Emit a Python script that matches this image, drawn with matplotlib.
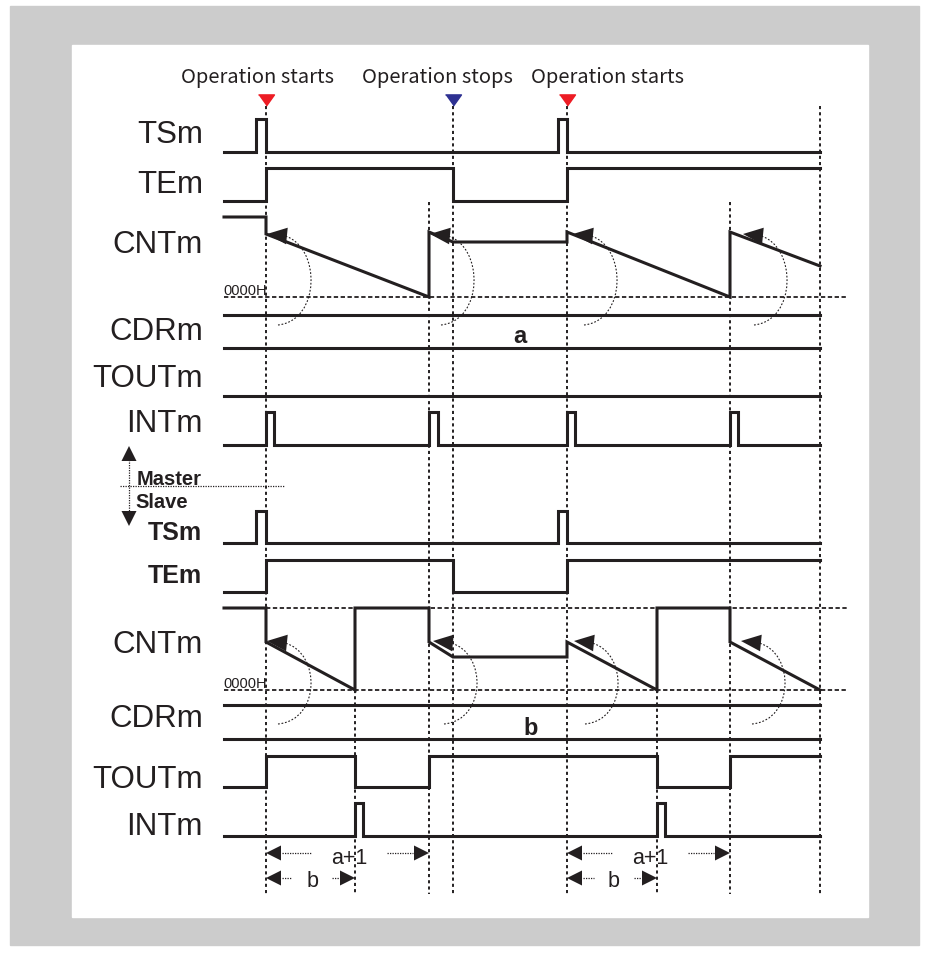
import matplotlib.pyplot as plt
from matplotlib.patches import Rectangle, PathPatch
from matplotlib.path import Path

# time axis events (same units as the horizontal axis)
t_begin, t_end = 224, 820
start_times = [266, 567]           # Operation starts
stop_times = [453]                 # Operation stops
master_zero = [429, 730]           # master counter hits 0000H
slave_zero = [355, 657]            # slave counter hits 0000H
reload_times = [266, 429, 567, 730]
m_arc_shift = [0, 0, 5, 12]
s_arc_shift = [0, 3, 6, 10]

# step signals: edge times (signal starts low, toggles at every edge)
m_ts_edges = [256, 266, 558, 567]
m_te_edges = [266, 453, 567]
m_int_edges = [266, 274, 429, 438, 567, 575, 730, 738]
s_ts_edges = [256, 266, 558, 567]
s_te_edges = [266, 453, 567]
s_tout_edges = [266, 355, 429, 657, 730]
s_int_edges = [355, 363, 657, 665]

# counter values, 0 = 0000H
m_cnt_t = [224, 266, 266, 429, 429, 453, 567, 567, 730, 730, 820]
m_cnt_v = [80, 80, 63, 0, 65, 55, 55, 65, 0, 65, 31]
s_cnt_t = [224, 266, 266, 355, 355, 429, 429, 453, 567, 567, 657, 657, 730, 730, 820]
s_cnt_v = [82, 82, 48, 0, 82, 82, 48, 33, 33, 48, 0, 82, 82, 48, 0]

top_labels = ['Operation starts', 'Operation stops', 'Operation starts']
top_label_x = [257.5, 437, 608]
marker_x = [266, 453, 567]
marker_col = ['#ed1c24', '#2e3192', '#ed1c24']

INK = '#231f20'
LW = 2.2

fig = plt.figure(figsize=(9.28, 9.54), dpi=100)
ax = fig.add_axes([0, 0, 1, 1])
ax.set_xlim(0, 928)
ax.set_ylim(954, 0)
ax.axis('off')

ax.add_patch(Rectangle((10, 7), 909, 939, color='#cccccc', zorder=0))
ax.add_patch(Rectangle((72, 46), 796, 872, color='white', zorder=0))


def step(edges, low, high):
    xs, ys = [t_begin], [low]
    lvl = low
    for e in edges:
        new = high if lvl == low else low
        xs += [e, e]
        ys += [lvl, new]
        lvl = new
    xs.append(t_end)
    ys.append(lvl)
    return xs, ys


def wave(edges, low, high):
    xs, ys = step(edges, low, high)
    ax.plot(xs, ys, color=INK, lw=LW, solid_joinstyle='miter', zorder=3)


def hline(y, x0=t_begin, x1=t_end):
    ax.plot([x0, x1], [y, y], color=INK, lw=LW, zorder=3)


dash_v = dict(color=INK, lw=1.4, ls=(0, (1.6, 1.6)), zorder=1)
dash_h = dict(color=INK, lw=1.3, ls=(0, (2.4, 1.4)), zorder=1)

# vertical guide lines
for x in start_times + stop_times + [t_end]:
    ax.plot([x, x], [107, 895], **dash_v)
for x in master_zero:
    ax.plot([x, x], [203, 895], **dash_v)
for x in slave_zero:
    ax.plot([x, x], [691, 895], **dash_v)

# ---- master ----
wave(m_ts_edges, 152.5, 120)
wave(m_te_edges, 201.5, 169)
m_zero_y = 298
ax.plot([t_begin, 848], [m_zero_y, m_zero_y], **dash_h)
ax.plot(m_cnt_t, [m_zero_y - v for v in m_cnt_v], color=INK, lw=LW,
        solid_joinstyle='miter', zorder=3)
hline(316)
hline(349)
hline(397)
wave(m_int_edges, 446, 413)

# ---- slave ----
wave(s_ts_edges, 544, 512)
wave(s_te_edges, 593, 561)
s_zero_y = 691
ax.plot([t_begin, 848], [s_zero_y, s_zero_y], **dash_h)
ax.plot([266, 848], [609, 609], **dash_h)
ax.plot(s_cnt_t, [s_zero_y - v for v in s_cnt_v], color=INK, lw=LW,
        solid_joinstyle='miter', zorder=3)
hline(706)
hline(740)
wave(s_tout_edges, 788, 757)
wave(s_int_edges, 837, 804)


# reload arcs with arrowheads
def reload_arc(t, top, bottom):
    p0 = (t + 12, bottom)
    p3 = (t + 19, top)
    bulge = t + 45
    cx = (bulge - 0.125 * (p0[0] + p3[0])) / 0.75
    h = bottom - top
    p1 = (cx, bottom - 0.05 * h)
    p2 = (cx, top + 0.12 * h)
    path = Path([p0, p1, p2, p3], [Path.MOVETO, Path.CURVE4, Path.CURVE4, Path.CURVE4])
    ax.add_patch(PathPatch(path, fill=False, ec=INK, lw=0.8,
                           ls=(0, (1.6, 1.6)), zorder=2))
    ax.annotate('', xy=(t + 1, top - 2), xytext=(t + 21, top),
                arrowprops=dict(arrowstyle='-|>,head_length=0.6,head_width=0.25',
                                mutation_scale=24, color=INK, lw=0,
                                shrinkA=0, shrinkB=0), zorder=4)


for t, s in zip(reload_times, m_arc_shift):
    reload_arc(t + s, 237, 326)
for t, s in zip(reload_times, s_arc_shift):
    reload_arc(t + s, 644, 725)

# top markers and labels
for x, c in zip(marker_x, marker_col):
    ax.plot([x], [100.5], marker=[(-1, 0.7), (1, 0.7), (0, -0.7)], ms=11.5,
            color=c, mec=c, zorder=5)
for lbl, x in zip(top_labels, top_label_x):
    ax.text(x, 83, lbl, ha='center', va='baseline', fontsize=14.5,
            family=['Noto Sans CJK JP', 'DejaVu Sans'], color=INK)

# signal names
big = dict(ha='right', va='baseline', fontsize=22.5, family='Liberation Sans', color=INK)
for name, y in [('TSm', 143), ('TEm', 193), ('CNTm', 253), ('CDRm', 340),
                ('TOUTm', 387), ('INTm', 432), ('CNTm', 653), ('CDRm', 727),
                ('TOUTm', 788), ('INTm', 835)]:
    ax.text(203, y, name, **big)
for name, y in [('TSm', 540), ('TEm', 583)]:
    ax.text(202, y, name, ha='right', va='baseline', fontsize=18,
            fontweight='bold', family='Liberation Sans', color=INK)

for y in [295, 688]:
    ax.text(223, y, '0000H', ha='left', va='baseline', fontsize=10.5,
            family='Liberation Sans', color=INK)
ax.text(520, 343, 'a', ha='center', va='baseline', fontsize=17,
        fontweight='bold', family='Liberation Sans', color=INK)
ax.text(531, 735, 'b', ha='center', va='baseline', fontsize=17,
        fontweight='bold', family='Liberation Sans', color=INK)

# master / slave divider
ax.plot([120, 285], [487, 487], color=INK, lw=0.9, ls=(0, (1, 1)), zorder=1)
ax.plot([129, 129], [458, 516], color=INK, lw=0.9, ls=(0, (1, 1)), zorder=1)
head = dict(arrowstyle='-|>,head_length=0.6,head_width=0.3', mutation_scale=18,
            color=INK, lw=0, shrinkA=0, shrinkB=0)
ax.annotate('', xy=(129, 447), xytext=(129, 463), arrowprops=head)
ax.annotate('', xy=(129, 527), xytext=(129, 511), arrowprops=head)
ax.text(137, 485, 'Master', ha='left', va='baseline', fontsize=14.5,
        fontweight='bold', family='Liberation Sans', color=INK)
ax.text(135, 508, 'Slave', ha='left', va='baseline', fontsize=14.5,
        fontweight='bold', family='Liberation Sans', color=INK)


# interval dimensions
def dimension(t0, t1, y, label, gap, base):
    mid = (t0 + t1) / 2 + 2
    ax.annotate('', xy=(t0, y), xytext=(t0 + 16, y), arrowprops=head)
    ax.annotate('', xy=(t1, y), xytext=(t1 - 16, y), arrowprops=head)
    ax.plot([t0 + 16, mid - gap], [y, y], color=INK, lw=0.9, ls=(0, (1, 1)))
    ax.plot([mid + gap, t1 - 16], [y, y], color=INK, lw=0.9, ls=(0, (1, 1)))
    ax.text(mid, base, label, ha='center', va='baseline', fontsize=15.5,
            family='Liberation Sans', color=INK)


for t0, t1 in zip(start_times, master_zero):
    dimension(t0, t1, 854, 'a+1', 38, 864)
for t0, t1 in zip(start_times, slave_zero):
    dimension(t0, t1, 879, 'b', 20, 887)

fig.savefig('out.png', dpi=100, facecolor='white')
